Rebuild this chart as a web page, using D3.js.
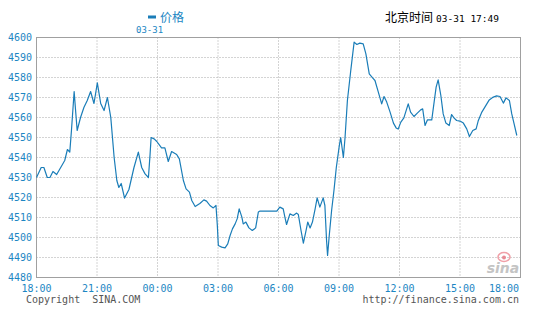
<!DOCTYPE html>
<html>
<head>
<meta charset="utf-8">
<script src="https://cdn.jsdelivr.net/npm/d3@7"></script>
<style>
html,body{margin:0;padding:0;background:#fff;}
svg{display:block;}
</style>
</head>
<body>
<svg id="chart" width="544" height="318"></svg>
<script>
// ---- data ----
const times = ["18:00","18:14","18:22","18:32","18:40","18:49","19:00","19:12","19:24","19:32","19:39","19:44","19:52","19:57","20:01","20:11","20:21","20:31","20:41","20:51","21:01","21:11","21:21","21:31","21:41","21:51","21:59","22:05","22:12","22:22","22:35","22:50","23:03","23:13","23:23","23:33","23:38","23:41","23:50","23:58","00:12","00:22","00:32","00:42","00:57","01:05","01:17","01:25","01:35","01:42","01:52","02:06","02:18","02:26","02:36","02:46","02:54","02:58","03:01","03:11","03:21","03:29","03:36","03:43","03:51","03:57","04:03","04:11","04:15","04:23","04:32","04:42","04:52","05:00","05:05","05:55","06:04","06:14","06:19","06:24","06:34","06:44","06:54","06:59","07:07","07:14","07:21","07:27","07:34","07:41","07:49","07:55","08:03","08:13","08:18","08:23","08:26","08:31","08:38","08:45","08:52","09:01","09:05","09:13","09:18","09:25","09:35","09:45","09:53","10:02","10:12","10:20","10:30","10:40","10:47","10:57","11:07","11:14","11:22","11:32","11:42","11:50","11:56","12:04","12:13","12:26","12:33","12:43","12:53","13:03","13:09","13:16","13:23","13:36","13:43","13:49","13:55","14:03","14:10","14:18","14:28","14:35","14:42","14:50","15:00","15:10","15:20","15:28","15:38","15:48","15:54","16:05","16:14","16:27","16:39","16:49","16:59","17:09","17:17","17:27","17:34","17:41","17:49"];
const prices = [4530,4535,4535,4530,4530,4533,4531.5,4535,4538.5,4544,4542.7,4553.5,4573,4562,4553.5,4560,4565,4568.5,4573,4567,4577.3,4567,4563.5,4570,4560,4540,4528.5,4525,4527,4519.7,4524,4535,4542.7,4535,4531.8,4530,4541.8,4550,4549.3,4548,4544.8,4544.8,4538,4543,4541.5,4539.3,4528.5,4524.3,4522.7,4518.5,4515.5,4517,4518.8,4518.2,4516,4514.8,4516,4506,4496,4495.2,4494.8,4496.8,4501,4504.3,4506.8,4509.3,4514.3,4510.2,4506.8,4507.7,4504.8,4503.5,4504.8,4512.7,4513.2,4513.2,4515.2,4514.3,4510.2,4506.5,4511.8,4511,4512.2,4511.5,4503.5,4497.2,4502.7,4507.7,4504.8,4507.7,4514.3,4519.8,4515.2,4519.8,4516,4498.5,4491,4501,4513.5,4523.5,4535,4546,4550,4540,4550,4568.5,4583.5,4597.7,4596.5,4597.2,4596.8,4591.8,4581.8,4579.8,4578.5,4572.7,4566.8,4570.5,4567.7,4562.7,4557.2,4554.8,4554.2,4557.7,4559.8,4566.8,4562.7,4560.5,4562.2,4563.8,4564.3,4556,4558.8,4558.8,4567.7,4575.2,4578.8,4571,4561.8,4557.2,4556,4561.5,4559.8,4558.5,4558.2,4557.2,4554.3,4550.5,4553.5,4554.3,4558.2,4562.7,4565.2,4568.8,4570.2,4570.8,4570.5,4567.2,4569.8,4568.5,4561.8,4556.8,4551];
const yTicks = [4480,4490,4500,4510,4520,4530,4540,4550,4560,4570,4580,4590,4600];
const xTickLabels = ["18:00","21:00","00:00","03:00","06:00","09:00","12:00","15:00","18:00"];
const seriesName = "价格";
const dateLabel = "03-31";
const headerLabel = "北京时间";
const headerTime = "03-31 17:49";
const footerLeft = "Copyright  SINA.COM";
const footerRight = "http://finance.sina.com.cn";

// ---- helpers ----
const day0 = new Date(2008, 2, 30, 18, 0);
function parseT(s, forceNext) {
  const [h, m] = s.split(":").map(Number);
  const d = new Date(2008, 2, (h >= 18 && !forceNext) ? 30 : 31, h, m);
  return d;
}
const data = times.map((t, i) => ({t: parseT(t), v: prices[i]}));

const svg = d3.select("#chart");
const L = 36.5, R = 520.5, T = 37.5, B = 277.5;
const x = d3.scaleTime().domain([day0, new Date(2008, 2, 31, 18, 0)]).range([L, R]);
const y = d3.scaleLinear().domain([4480, 4600]).range([B, T]);

const blue = "#1c86c3";
const lineBlue = "#1a7db8";
const mono = "'DejaVu Sans Mono', 'Liberation Mono', monospace";
const cjk = "'Noto Sans CJK SC', sans-serif";

// grid
const tickDates = d3.timeHour.every(3).range(day0, new Date(2008, 2, 31, 18, 1));
svg.append("g").selectAll("line").data(yTicks.filter(v => v > 4480 && v < 4600)).join("line")
  .attr("x1", L).attr("x2", R).attr("y1", d => y(d)).attr("y2", d => y(d))
  .attr("stroke", "#a8a8a8").attr("stroke-dasharray", "1,2");
svg.append("g").selectAll("line").data(tickDates.slice(1, -1)).join("line")
  .attr("x1", d => x(d)).attr("x2", d => x(d)).attr("y1", T).attr("y2", B)
  .attr("stroke", "#a8a8a8").attr("stroke-dasharray", "1,2");

// border
svg.append("rect").attr("x", L).attr("y", T).attr("width", R - L).attr("height", B - T)
  .attr("fill", "none").attr("stroke", "#a0a0a0");

// watermark
const wm = svg.append("g").attr("transform", "translate(0,0)");
wm.append("ellipse").attr("cx", 504).attr("cy", 257).attr("rx", 6).attr("ry", 4.5)
  .attr("fill", "none").attr("stroke", "#f0a0a8").attr("stroke-width", 1.5);
wm.append("circle").attr("cx", 504).attr("cy", 257.5).attr("r", 2).attr("fill", "#e88a94");
wm.append("text").attr("x", 503).attr("y", 273).attr("text-anchor", "middle")
  .attr("font-family", "'DejaVu Sans', sans-serif").attr("font-style", "italic").attr("font-weight", "bold")
  .attr("font-size", 14).attr("fill", "#c4c4c4").text("sina");

// line
const line = d3.line().x(d => x(d.t)).y(d => y(d.v));
svg.append("path").datum(data).attr("d", line)
  .attr("fill", "none").attr("stroke", lineBlue).attr("stroke-width", 1.2).attr("stroke-linejoin", "round");

// y labels
svg.append("g").selectAll("text").data(yTicks).join("text")
  .attr("x", 32).attr("y", d => y(d)).attr("dy", "0.35em").attr("text-anchor", "end")
  .attr("font-family", mono).attr("font-size", 10).attr("fill", blue).text(d => d);

// x labels
svg.append("g").selectAll("text").data(tickDates).join("text")
  .attr("x", (d, i) => i === tickDates.length - 1 ? 519 : x(d))
  .attr("y", 292)
  .attr("text-anchor", (d, i) => i === tickDates.length - 1 ? "end" : "middle")
  .attr("font-family", mono).attr("font-size", 10).attr("fill", blue)
  .text((d, i) => xTickLabels[i]);

// legend
svg.append("rect").attr("x", 148).attr("y", 15.5).attr("width", 8).attr("height", 3).attr("fill", lineBlue);
svg.append("text").attr("x", 160).attr("y", 22).attr("font-family", cjk).attr("font-size", 12)
  .attr("fill", blue).text(seriesName);
svg.append("text").attr("x", 136).attr("y", 32.5).attr("font-family", mono).attr("font-size", 9)
  .attr("fill", blue).text(dateLabel);

// header
svg.append("text").attr("x", 385).attr("y", 22).attr("font-family", cjk).attr("font-size", 12)
  .attr("fill", "#000").text(headerLabel);
svg.append("text").attr("x", 499).attr("y", 22).attr("text-anchor", "end").attr("font-family", mono)
  .attr("font-size", 9.5).attr("fill", "#000").text(headerTime);

// footer
svg.append("text").attr("x", 26).attr("y", 303).attr("font-family", mono).attr("font-size", 10)
  .attr("fill", "#555").attr("xml:space", "preserve").style("white-space", "pre").text(footerLeft);
svg.append("text").attr("x", 519).attr("y", 303).attr("text-anchor", "end").attr("font-family", mono)
  .attr("font-size", 10).attr("fill", "#555").text(footerRight);
</script>
</body>
</html>
